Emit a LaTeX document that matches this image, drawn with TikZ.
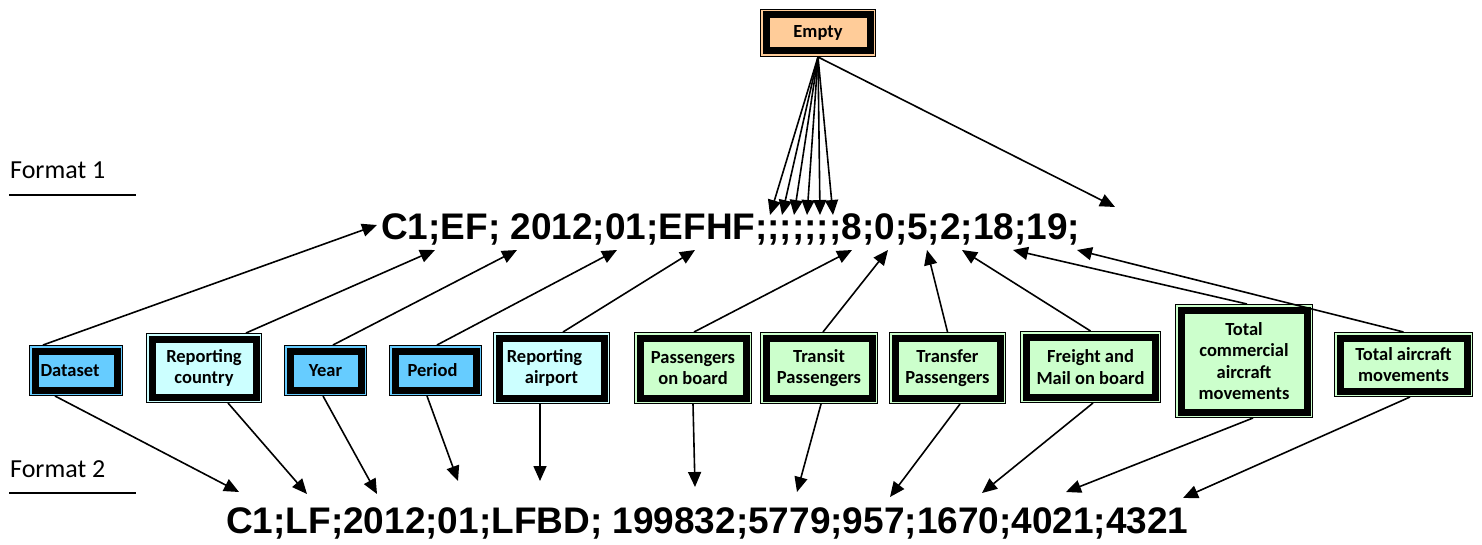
\documentclass[tikz,border=0pt]{standalone}
\usepackage{fontspec}
\usetikzlibrary{arrows.meta}
\newfontfamily\boxfont{Carlito}
\newfontfamily\strfont{Liberation Sans}
\definecolor{cblue}{HTML}{66CCFF}
\definecolor{ccyan}{HTML}{CCFFFF}
\definecolor{cgreen}{HTML}{CCFFCC}
\definecolor{cpeach}{HTML}{FFCC99}
\tikzset{
  bx/.style={draw=black, line width=7pt, fill=#1, inner sep=0pt, outer sep=6pt,
    preaction={draw=black, line width=12pt},
    preaction={draw=#1, line width=10pt},
    font=\boxfont\bfseries\fontsize{18.5}{21.5}\selectfont, align=center},
  arr/.style={line width=1.6pt, -{Triangle[length=15pt,width=13pt]}},
  fmtstr/.style={anchor=base west, inner sep=0pt, font=\strfont\bfseries\fontsize{37}{40}\selectfont},
  fmtlbl/.style={anchor=base west, inner sep=0pt, font=\boxfont\fontsize{26}{30}\selectfont},
  uline/.style={line width=2.5pt}
}
\begin{document}
\begin{tikzpicture}[x=1pt,y=-1pt]
\useasboundingbox (0,0) rectangle (1482,545);
% labels
\node[fmtlbl] (fmt1) at (10,179) {Format 1};
\node[fmtlbl] (fmt2) at (10,477) {Format 2};
\draw[uline] (9,195) -- (136,195);
\draw[uline] (9,493) -- (136,493);
% strings
\node[fmtstr] (s1) at (381,240) {C1;EF; 2012;01;EFHF;;;;;;;8;0;5;2;18;19;};
\node[fmtstr] (s2) at (226,533) {C1;LF;2012;01;LFBD; 199832;5779;957;1670;4021;4321};
% boxes
\node[bx=cpeach, minimum width=104pt, minimum height=36pt] (empty) at (818,33) {Empty};
\node[bx=cblue, minimum width=82pt, minimum height=39pt] (dataset) at (76,370.5) {Dataset\hspace*{12pt}};
\node[bx=ccyan, minimum width=104pt, minimum height=58pt] (country) at (204,368) {Reporting\\country};
\node[bx=cblue, minimum width=71pt, minimum height=39pt] (year) at (325.5,370.5) {Year};
\node[bx=cblue, minimum width=81pt, minimum height=39pt] (period) at (435.5,370.5) {Period\hspace*{6pt}};
\node[bx=ccyan, minimum width=105pt, minimum height=60pt] (airport) at (551.5,368) {Reporting\hspace*{14pt}\\airport};
\node[bx=cgreen, minimum width=106pt, minimum height=60pt] (pob) at (693,368) {Passengers\\on board};
\node[bx=cgreen, minimum width=106pt, minimum height=60pt] (transit) at (819,368) {Transit\\Passengers};
\node[bx=cgreen, minimum width=105pt, minimum height=60pt] (transfer) at (947.5,368) {Transfer\\Passengers};
\node[bx=cgreen, minimum width=129pt, minimum height=60pt] (freight) at (1090.5,367) {Freight and\\Mail on board};
\node[bx=cgreen, minimum width=126pt, minimum height=102pt] (tcam) at (1244,361) {Total\\commercial\\aircraft\\movements};
\node[bx=cgreen, minimum width=127pt, minimum height=53pt] (tam) at (1403.5,364.5) {Total aircraft\\movements};
% tip coordinates (format 1)
\coordinate (t1) at (377,225);
\coordinate (t2) at (435,250);
\coordinate (t3) at (517,250);
\coordinate (t4) at (617,250);
\coordinate (t5) at (695,250);
\coordinate (t6) at (852,250);
\coordinate (t7) at (888,250);
\coordinate (t8) at (927,250);
\coordinate (t9) at (962,250);
\coordinate (t10) at (1013,250);
\coordinate (t11) at (1077,250);
% empty fan
\coordinate (e1) at (770,215);
\coordinate (e2) at (782,215);
\coordinate (e3) at (794,215);
\coordinate (e4) at (807,215);
\coordinate (e5) at (820,215);
\coordinate (e6) at (833,215);
\coordinate (e7) at (1115,207);
% tip coordinates (format 2)
\coordinate (b1) at (239,492);
\coordinate (b2) at (307,494);
\coordinate (b3) at (377,494);
\coordinate (b4) at (458,481);
\coordinate (b5) at (540,481);
\coordinate (b6) at (695,487);
\coordinate (b7) at (797,492);
\coordinate (b8) at (890,497);
\coordinate (b9) at (982,493);
\coordinate (b10) at (1066,492);
\coordinate (b11) at (1183,498);
% connectors up
\draw[arr] ([xshift=-33pt]dataset.north) -- (t1);
\draw[arr] ([xshift=42pt]country.north) -- (t2);
\draw[arr] ([xshift=7.5pt]year.north) -- (t3);
\draw[arr] ([xshift=1.5pt]period.north) -- (t4);
\draw[arr] ([xshift=11.5pt]airport.north) -- (t5);
\draw[arr] ([xshift=1pt]pob.north) -- (t6);
\draw[arr] ([xshift=4pt]transit.north) -- (t7);
\draw[arr] (transfer.north) -- (t8);
\draw[arr] (freight.north) -- (t9);
\draw[arr] ([xshift=3pt]tcam.north) -- (t10);
\draw[arr] (tam.north) -- (t11);
% empty fan
\foreach \e in {e1,e2,e3,e4,e5,e6,e7} \draw[arr] (empty.south) -- (\e);
% connectors down
\draw[arr] ([xshift=-21pt]dataset.south) -- (b1);
\draw[arr] ([xshift=24pt]country.south) -- (b2);
\draw[arr] ([xshift=-2.5pt]year.south) -- (b3);
\draw[arr] ([xshift=-8.5pt]period.south) -- (b4);
\draw[arr] ([xshift=-11.5pt]airport.south) -- (b5);
\draw[arr] (pob.south) -- (b6);
\draw[arr] ([xshift=2pt]transit.south) -- (b7);
\draw[arr] ([xshift=12.5pt]transfer.south) -- (b8);
\draw[arr] ([xshift=2.5pt]freight.south) -- (b9);
\draw[arr] ([xshift=9pt]tcam.south) -- (b10);
\draw[arr] ([xshift=6.5pt]tam.south) -- (b11);
\end{tikzpicture}
\end{document}
